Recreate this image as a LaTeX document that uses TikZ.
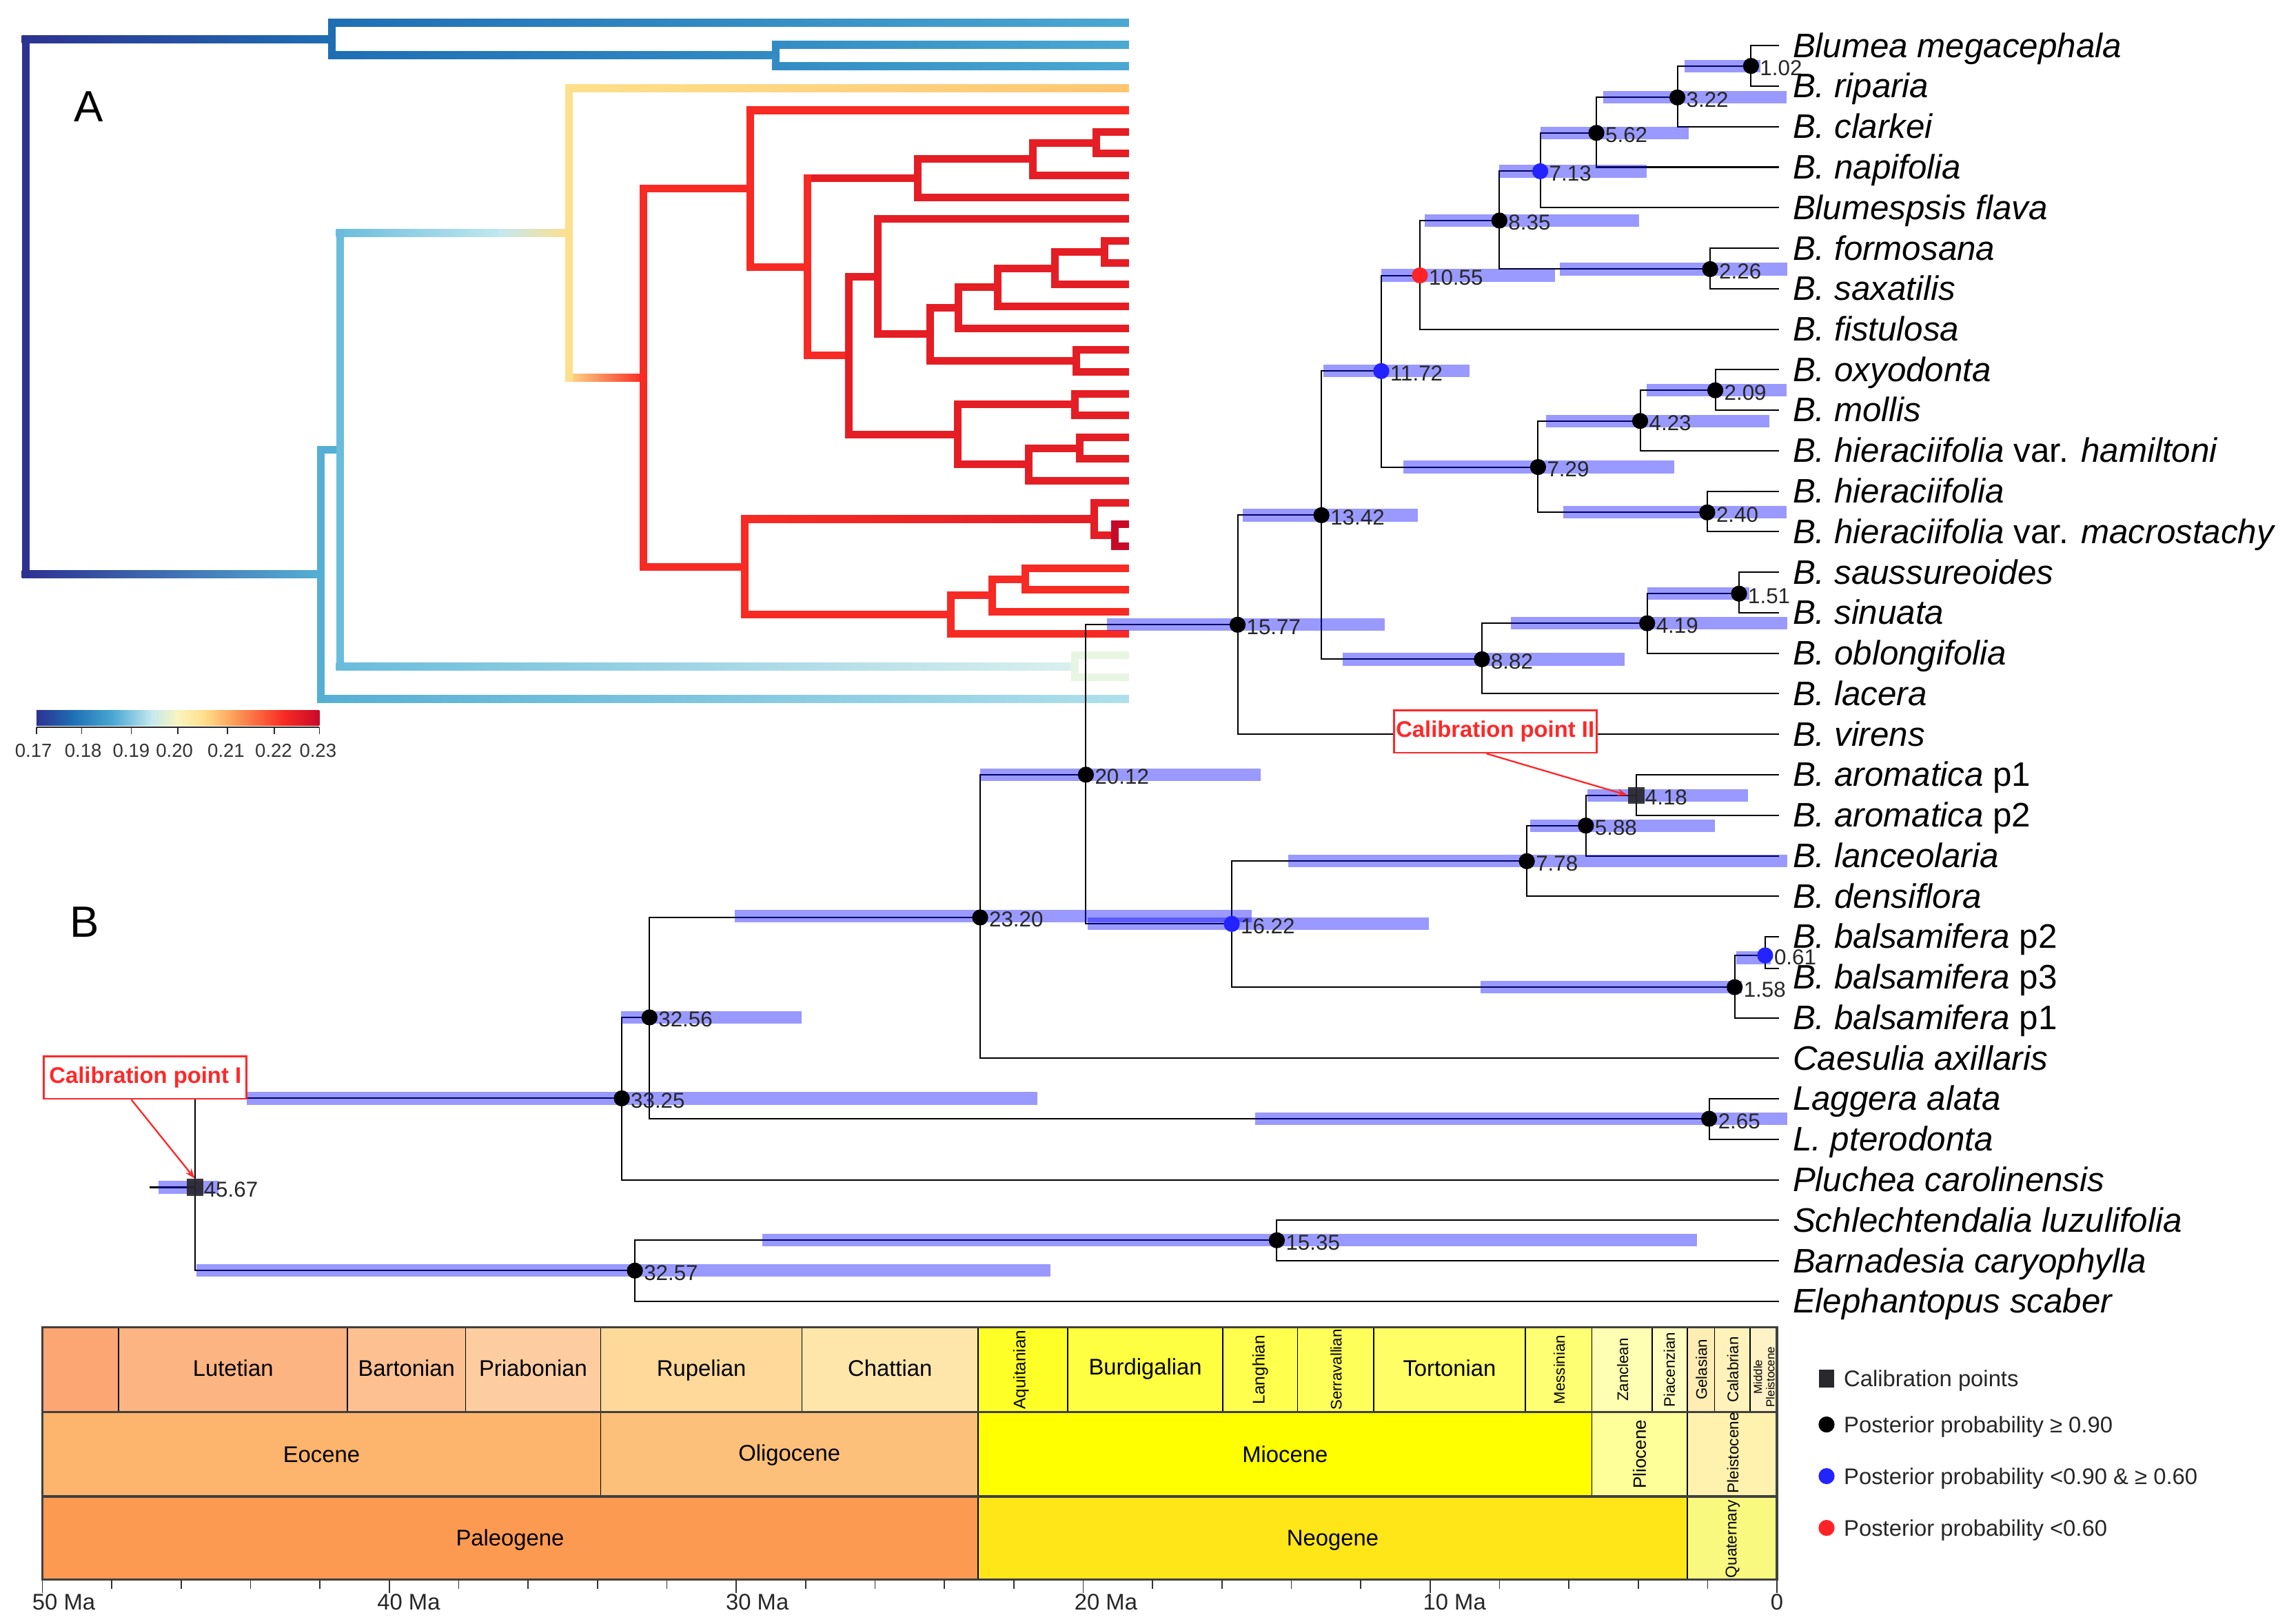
\documentclass[tikz,border=0pt]{standalone}
\usepackage{fontspec}
\setmainfont{Liberation Sans}
\usetikzlibrary{arrows.meta}
% fonts
\newcommand\fTaxon{\fontsize{23.3pt}{27pt}\selectfont\itshape}
\newcommand\fNum{\fontsize{14.8pt}{16pt}\selectfont}
\newcommand\fStage{\fontsize{15.5pt}{18pt}\selectfont}
\newcommand\fRot{\fontsize{10.5pt}{12pt}\selectfont}
\newcommand\fCal{\fontsize{15.5pt}{18pt}\selectfont\bfseries}
% colours
\definecolor{cNavy}{RGB}{45,50,145}
\definecolor{cBlA}{RGB}{30,110,180}
\definecolor{cBlB}{RGB}{50,140,195}
\definecolor{cBlC}{RGB}{75,168,210}
\definecolor{cLbA}{RGB}{85,175,212}
\definecolor{cLbB}{RGB}{105,188,220}
\definecolor{cLbC}{RGB}{175,224,236}
\definecolor{cLbD}{RGB}{195,232,240}
\definecolor{cPale}{RGB}{218,240,238}
\definecolor{cPgreen}{RGB}{232,245,226}
\definecolor{cPyl}{RGB}{250,245,190}
\definecolor{cYel}{RGB}{254,224,140}
\definecolor{cOrng}{RGB}{254,198,115}
\definecolor{cOrA}{RGB}{252,160,90}
\definecolor{cRedA}{RGB}{248,42,36}
\definecolor{cRedB}{RGB}{228,30,36}
\definecolor{cRedC}{RGB}{200,10,40}
\definecolor{pBlue}{RGB}{35,35,255}
\definecolor{pRed}{RGB}{255,35,40}
\definecolor{calRed}{RGB}{255,40,40}
\definecolor{sqGray}{RGB}{40,40,45}
% ICS colours
\definecolor{cYpr}{RGB}{252,167,115}
\definecolor{cLut}{RGB}{252,180,130}
\definecolor{cBar}{RGB}{253,192,145}
\definecolor{cPri}{RGB}{253,205,161}
\definecolor{cRup}{RGB}{254,217,154}
\definecolor{cCha}{RGB}{254,230,170}
\definecolor{cAqu}{RGB}{255,255,40}
\definecolor{cBur}{RGB}{255,255,65}
\definecolor{cLan}{RGB}{255,255,77}
\definecolor{cSer}{RGB}{255,255,89}
\definecolor{cTor}{RGB}{255,255,101}
\definecolor{cMes}{RGB}{255,255,115}
\definecolor{cZan}{RGB}{255,255,179}
\definecolor{cPia}{RGB}{255,255,191}
\definecolor{cGel}{RGB}{255,237,179}
\definecolor{cCal}{RGB}{255,242,186}
\definecolor{cMid}{RGB}{255,242,199}
\definecolor{cEoc}{RGB}{253,180,108}
\definecolor{cOli}{RGB}{253,192,122}
\definecolor{cMio}{RGB}{255,255,0}
\definecolor{cPli}{RGB}{255,255,153}
\definecolor{cPle}{RGB}{255,242,174}
\definecolor{cPal}{RGB}{253,154,82}
\definecolor{cNeo}{RGB}{255,230,25}
\definecolor{cQua}{RGB}{249,249,127}
% helpers for panel A (thick coloured tree)
\newcommand\hbr[5]{\shade[left color=#4,right color=#5] ({#2-2.6},{#1-2.6}) rectangle (#3,{#1+2.6});}
\newcommand\hbs[4]{\fill[#4] ({#2-2.6},{#1-2.6}) rectangle (#3,{#1+2.6});}
\newcommand\hbm[6]{\shade[left color=#4,middle color=#5,right color=#6] ({#2-2.6},{#1-2.6}) rectangle (#3,{#1+2.6});}
\newcommand\vbr[4]{\fill[#4] ({#1-2.6},{#2-2.6}) rectangle ({#1+2.6},{#3+2.6});}
% HPD bar
\newcommand\hpd[3]{\fill[hpdbar] (#2,{#1-4.3}) rectangle (#3,{#1+4.3});}
% timescale cell
\newcommand\tcell[5]{\fill[#5] (#1,#3) rectangle (#2,#4);}

\begin{document}
\begin{tikzpicture}[x=1pt,y=-1pt,
  br/.style={line width=0.95pt, black},
  hpdbar/.style={fill=blue, fill opacity=0.4},
  pdot/.style={circle, inner sep=0pt, minimum size=11pt, fill=#1},
  csq/.style={rectangle, inner sep=0pt, minimum size=11.5pt, fill=sqGray, fill opacity=0.92},
  num/.style={anchor=west, inner sep=0pt, font=\fNum, text=black!85},
  taxon/.style={anchor=base west, inner sep=0pt, font=\fTaxon},
  stage/.style={anchor=base, inner sep=0pt, font=\fStage},
  rot/.style={rotate=90, inner sep=0pt, font=\fRot},
  calbox/.style={draw=calRed, line width=1.3pt, fill=white, text=calRed, font=\fCal, inner sep=1pt},
  calarrow/.style={draw=calRed, line width=1.1pt, -{Stealth[length=7pt,width=5pt]}},
  leg/.style={anchor=base west, inner sep=0pt, font=\fStage, text=black!85},
  axl/.style={anchor=base west, inner sep=0pt, font=\fStage, text=black!85},
  cbl/.style={anchor=base, inner sep=0pt, font=\fontsize{13pt}{15pt}\selectfont, text=black!80}]
\fill[white] (0,0) rectangle (1568,1113);
\useasboundingbox (0,0) rectangle (1568,1113);

%================ PANEL A =================
\node[font=\fontsize{30pt}{30pt}\selectfont, inner sep=0pt] (labA) at (61,73) {A};
% top clade
\hbr{26.8}{17.5}{227.6}{cNavy}{cBlA}
\hbr{15.6}{227.6}{774}{cBlA}{cBlC}
\hbr{38.03}{227.6}{531.8}{cBlA}{cBlB}
\hbr{30.55}{531.8}{774}{cBlB}{cBlC}
\hbr{45.51}{531.8}{774}{cBlB}{cBlC}
\vbr{227.6}{15.6}{38.03}{cBlA}
\vbr{531.8}{30.55}{45.51}{cBlB}
% bottom clade
\hbm{393.7}{17.5}{220}{cNavy}{cBlA}{cLbA}
\hbr{479.21}{220}{774}{cLbA}{cLbC}
\hbs{308.2}{220}{233}{cLbA}
\hbr{456.78}{233}{737}{cLbB}{cPale}
\hbs{449.3}{737}{774}{cPgreen}
\hbs{464.25}{737}{774}{cPgreen}
\hbr{159.67}{233}{345}{cLbB}{cLbD}
\hbm{159.67}{345}{390.2}{cLbD}{cPyl}{cYel}
\hbr{60.47}{390.2}{774}{cYel}{cOrng}
\hbm{258.87}{390.2}{441.3}{cYel}{cOrA}{cRedA}
\vbr{17.5}{26.8}{393.7}{cNavy}
\vbr{220}{308.2}{479.21}{cLbA}
\vbr{233}{159.67}{456.78}{cLbB}
\vbr{737}{449.3}{464.25}{cPgreen}
\vbr{390.2}{60.47}{258.87}{cYel}
% red clade
\hbs{129.2}{441.3}{514.3}{cRedA}
\hbr{75.42}{514.3}{774}{cRedA}{cRedA}
\hbs{182.98}{514.3}{553.8}{cRedA}
\hbs{122.16}{553.8}{629.4}{cRedB}
\hbs{109.07}{629.4}{708}{cRedB}
\hbs{97.86}{708}{751.5}{cRedB}
\hbs{90.38}{751.5}{774}{cRedB}
\hbs{105.33}{751.5}{774}{cRedB}
\hbs{120.29}{708}{774}{cRedB}
\hbs{135.24}{629.4}{774}{cRedB}
\hbs{243.8}{553.8}{581.8}{cRedA}
\hbs{189.69}{581.8}{601.9}{cRedB}
\hbs{150.2}{601.9}{774}{cRedB}
\hbs{229.18}{601.9}{637.9}{cRedB}
\hbs{210.95}{637.9}{656.9}{cRedB}
\hbs{196.93}{656.9}{683.9}{cRedB}
\hbs{183.85}{683.9}{723.4}{cRedB}
\hbs{172.63}{723.4}{757.5}{cRedB}
\hbs{165.15}{757.5}{774}{cRedB}
\hbs{180.11}{757.5}{774}{cRedB}
\hbs{195.06}{723.4}{774}{cRedB}
\hbs{210.02}{683.9}{774}{cRedB}
\hbs{224.97}{656.9}{774}{cRedB}
\hbs{247.4}{637.9}{738}{cRedB}
\hbs{239.93}{738}{774}{cRedB}
\hbs{254.88}{738}{774}{cRedB}
\hbs{297.9}{581.8}{656.4}{cRedB}
\hbs{277.3}{656.4}{737}{cRedB}
\hbs{269.84}{737}{774}{cRedB}
\hbs{284.79}{737}{774}{cRedB}
\hbs{318.43}{656.4}{705.4}{cRedB}
\hbs{307.2}{705.4}{740.4}{cRedB}
\hbs{299.75}{740.4}{774}{cRedB}
\hbs{314.7}{740.4}{774}{cRedB}
\hbs{329.66}{705.4}{774}{cRedB}
\hbs{388.54}{441.3}{510.8}{cRedA}
\hbr{355.83}{510.8}{750.4}{cRedA}{cRedB}
\hbs{344.61}{750.4}{774}{cRedB}
\hbs{367.05}{750.4}{764.4}{cRedB}
\hbs{359.57}{764.4}{774}{cRedC}
\hbs{374.52}{764.4}{774}{cRedC}
\hbs{421.26}{510.8}{651.9}{cRedA}
\hbs{408.17}{651.9}{680.4}{cRedA}
\hbs{396.96}{680.4}{703}{cRedA}
\hbs{389.48}{703}{774}{cRedA}
\hbs{404.43}{703}{774}{cRedA}
\hbs{419.39}{680.4}{774}{cRedA}
\hbs{434.34}{651.9}{774}{cRedA}
\vbr{441.3}{129.2}{388.54}{cRedA}
\vbr{514.3}{75.42}{182.98}{cRedA}
\vbr{553.8}{122.16}{243.8}{cRedA}
\vbr{629.4}{109.07}{135.24}{cRedB}
\vbr{708}{97.86}{120.29}{cRedB}
\vbr{751.5}{90.38}{105.33}{cRedB}
\vbr{581.8}{189.69}{297.9}{cRedB}
\vbr{601.9}{150.2}{229.18}{cRedB}
\vbr{637.9}{210.95}{247.4}{cRedB}
\vbr{656.9}{196.93}{224.97}{cRedB}
\vbr{683.9}{183.85}{210.02}{cRedB}
\vbr{723.4}{172.63}{195.06}{cRedB}
\vbr{757.5}{165.15}{180.11}{cRedB}
\vbr{738}{239.93}{254.88}{cRedB}
\vbr{656.4}{277.3}{318.43}{cRedB}
\vbr{737}{269.84}{284.79}{cRedB}
\vbr{705.4}{307.2}{329.66}{cRedB}
\vbr{740.4}{299.75}{314.7}{cRedB}
\vbr{510.8}{355.83}{421.26}{cRedA}
\vbr{750.4}{344.61}{367.05}{cRedB}
\vbr{764.4}{359.57}{374.52}{cRedC}
\vbr{651.9}{408.17}{434.34}{cRedA}
\vbr{680.4}{396.96}{419.39}{cRedA}
\vbr{703}{389.48}{404.43}{cRedA}

% colour bar
\shade[left color=cNavy,right color=cBlA] (25,486.8) rectangle (50,497.4);
\shade[left color=cBlA,right color=cBlC] (49.5,486.8) rectangle (78,497.4);
\shade[left color=cBlC,right color=cLbD] (77.5,486.8) rectangle (104,497.4);
\shade[left color=cLbD,right color=cPyl] (103.5,486.8) rectangle (122,497.4);
\shade[left color=cPyl,right color=cYel] (121.5,486.8) rectangle (140,497.4);
\shade[left color=cYel,right color=cOrA] (139.5,486.8) rectangle (160,497.4);
\shade[left color=cOrA,right color=cRedA] (159.5,486.8) rectangle (195,497.4);
\shade[left color=cRedA,right color=cRedC] (194.5,486.8) rectangle (219,497.4);
\draw[line width=0.8pt, black!85] (25,498.4) -- (219,498.4);
\foreach \xx/\lx/\tt in {25/23/0.17,56/57/0.18,90/90/0.19,122/119.6/0.20,156/155/0.21,188/187.6/0.22,219/218/0.23}
  {\draw[line width=0.8pt, black!85] (\xx,498.4) -- (\xx,503.4);
   \node[cbl] (cb\tt) at (\lx,519) {\tt};}

%================ PANEL B =================
\node[font=\fontsize{30pt}{30pt}\selectfont, inner sep=0pt] (labB) at (58,632) {B};
% tips
\foreach \i/\yy in {1/31.3,2/59.1,3/86.8,4/114.6,5/142.4,6/170.2,7/197.9,8/225.7,9/253.5,10/281.2,11/309.0,12/336.8,13/364.5,14/392.3,15/420.1,16/447.9,17/475.6,18/503.4,19/531.2,20/558.9,21/586.7,22/614.5,23/642.2,24/664,25/697.8,26/725.6,27/753.3,28/781.1,29/808.9,30/836.6,31/864.4,32/892.2}
  {\coordinate (t\i) at (1219.5,\yy);}
% internal nodes
\coordinate (n102) at (1200.5,45.2);
\coordinate (n322) at (1150,66.8);
\coordinate (n562) at (1094.5,91.1);
\coordinate (n713) at (1056,117.4);
\coordinate (n835) at (1028,151.2);
\coordinate (n226) at (1172.5,184.5);
\coordinate (n1055) at (973.5,188.8);
\coordinate (n1172) at (947,254.4);
\coordinate (n209) at (1176,267.6);
\coordinate (n423) at (1124.5,288.6);
\coordinate (n729) at (1054.5,320.2);
\coordinate (n240) at (1170.5,351.3);
\coordinate (n1342) at (906,353.2);
\coordinate (n1577) at (848.5,428.3);
\coordinate (n151) at (1192.3,407);
\coordinate (n419) at (1129.3,427.3);
\coordinate (n882) at (1016,452);
\coordinate (n418) at (1121.8,545.2);
\coordinate (n588) at (1087.3,566);
\coordinate (n778) at (1046.8,590.4);
\coordinate (n1622) at (844.5,633.4);
\coordinate (n061) at (1210.2,655);
\coordinate (n158) at (1189.3,676.8);
\coordinate (n2012) at (744.5,531.1);
\coordinate (n2320) at (672,629);
\coordinate (n3256) at (445.3,697.5);
\coordinate (n265) at (1171.8,767);
\coordinate (n3325) at (426.3,753);
\coordinate (n4567) at (133.6,814);
\coordinate (n3257) at (435.3,871.1);
\coordinate (n1535) at (875.4,850.3);
\coordinate (root) at (102.6,814);
% branches
\foreach \p/\c in {n102/t1,n102/t2,n322/n102,n322/t3,n562/n322,n562/t4,n713/n562,n713/t5,
  n835/n713,n835/n226,n226/t6,n226/t7,n1055/n835,n1055/t8,n1172/n1055,n1172/n729,
  n729/n423,n729/n240,n423/n209,n423/t11,n209/t9,n209/t10,n240/t12,n240/t13,
  n1342/n1172,n1342/n882,n882/n419,n882/t17,n419/n151,n419/t16,n151/t14,n151/t15,
  n1577/n1342,n1577/t18,n2012/n1577,n2012/n1622,n1622/n778,n1622/n158,
  n778/n588,n778/t22,n588/n418,n588/t21,n418/t19,n418/t20,n158/n061,n158/t25,
  n061/t23,n061/t24,n2320/n2012,n2320/t26,n3256/n2320,n3256/n265,n265/t27,n265/t28,
  n3325/n3256,n3325/t29,n4567/n3325,n4567/n3257,n3257/n1535,n3257/t32,n1535/t30,n1535/t31}
  {\draw[br] (\p) |- (\c);}
\draw[br] (root) -- (n4567);
% HPD bars
\hpd{45.2}{1155}{1207}
\hpd{66.8}{1099}{1225}
\hpd{91.1}{1056}{1158}
\hpd{117.4}{1028}{1129}
\hpd{151.2}{977}{1124}
\hpd{184.5}{1069.5}{1225.5}
\hpd{188.8}{947}{1066}
\hpd{254.4}{907.5}{1007.4}
\hpd{267.6}{1129}{1225}
\hpd{288.6}{1060}{1213}
\hpd{320.2}{962}{1148}
\hpd{351.3}{1072}{1225}
\hpd{353.2}{852}{972}
\hpd{428.3}{759}{949.4}
\hpd{407}{1129.3}{1199.3}
\hpd{427.3}{1036}{1225.2}
\hpd{452}{920.4}{1113.8}
\hpd{545.2}{1088.3}{1198.3}
\hpd{566}{1049.3}{1175.8}
\hpd{590.4}{883.4}{1225.2}
\hpd{633.4}{745.5}{979.4}
\hpd{656.6}{1190.3}{1214.2}
\hpd{676.8}{1015}{1194}
\hpd{531.1}{672}{864.5}
\hpd{628.2}{503.8}{858}
\hpd{697.5}{425.8}{549.8}
\hpd{767}{860.5}{1225.2}
\hpd{753}{169.1}{711}
\hpd{814}{108.6}{150}
\hpd{871.1}{134.6}{720.4}
\hpd{850.3}{522.8}{1163.3}
% node markers
\foreach \n in {n102,n322,n562,n835,n226,n209,n423,n729,n240,n1342,n1577,n151,n419,n882,n588,n778,n158,n2012,n2320,n3256,n265,n3325,n3257,n1535}
  {\node[pdot=black] (d\n) at (\n) {};}
\foreach \n in {n713,n1172,n1622,n061}
  {\node[pdot=pBlue] (d\n) at (\n) {};}
\node[pdot=pRed] (dn1055) at (n1055) {};
\node[csq] (s418) at (n418) {};
\node[csq] (s4567) at (n4567) {};
% node ages
\foreach \n/\a in {n102/1.02,n322/3.22,n562/5.62,n713/7.13,n835/8.35,n226/2.26,n1055/10.55,n1172/11.72,
  n209/2.09,n423/4.23,n729/7.29,n240/2.40,n1342/13.42,n1577/15.77,n151/1.51,n419/4.19,n882/8.82,
  n418/4.18,n588/5.88,n778/7.78,n1622/16.22,n061/0.61,n158/1.58,n2012/20.12,n2320/23.20,
  n3256/32.56,n265/2.65,n3325/33.25,n4567/45.67,n3257/32.57,n1535/15.35}
  {\node[num] (a\n) at ([xshift=6pt,yshift=-1.5pt]\n) {\a};}
% taxon labels
\node[taxon] (L1) at (1229,39.3) {Blumea megacephala};
\node[taxon] (L2) at (1229,67.1) {B. riparia};
\node[taxon] (L3) at (1229,94.8) {B. clarkei};
\node[taxon] (L4) at (1229,122.6) {B. napifolia};
\node[taxon] (L5) at (1229,150.4) {Blumespsis flava};
\node[taxon] (L6) at (1229,178.2) {B. formosana};
\node[taxon] (L7) at (1229,205.9) {B. saxatilis};
\node[taxon] (L8) at (1229,233.7) {B. fistulosa};
\node[taxon] (L9) at (1229,261.5) {B. oxyodonta};
\node[taxon] (L10) at (1229,289.2) {B. mollis};
\node[taxon] (L11) at (1229,317.0) {B. hieraciifolia {\upshape var.} hamiltoni};
\node[taxon] (L12) at (1229,344.8) {B. hieraciifolia};
\node[taxon] (L13) at (1229,372.5) {B. hieraciifolia {\upshape var.} macrostachy};
\node[taxon] (L14) at (1229,400.3) {B. saussureoides};
\node[taxon] (L15) at (1229,428.1) {B. sinuata};
\node[taxon] (L16) at (1229,455.9) {B. oblongifolia};
\node[taxon] (L17) at (1229,483.6) {B. lacera};
\node[taxon] (L18) at (1229,511.4) {B. virens};
\node[taxon] (L19) at (1229,539.2) {B. aromatica {\upshape p1}};
\node[taxon] (L20) at (1229,566.9) {B. aromatica {\upshape p2}};
\node[taxon] (L21) at (1229,594.7) {B. lanceolaria};
\node[taxon] (L22) at (1229,622.5) {B. densiflora};
\node[taxon] (L23) at (1229,650.2) {B. balsamifera {\upshape p2}};
\node[taxon] (L24) at (1229,678.0) {B. balsamifera {\upshape p3}};
\node[taxon] (L25) at (1229,705.8) {B. balsamifera {\upshape p1}};
\node[taxon] (L26) at (1229,733.6) {Caesulia axillaris};
\node[taxon] (L27) at (1229,761.3) {Laggera alata};
\node[taxon] (L28) at (1229,789.1) {L. pterodonta};
\node[taxon] (L29) at (1229,816.9) {Pluchea carolinensis};
\node[taxon] (L30) at (1229,844.6) {Schlechtendalia luzulifolia};
\node[taxon] (L31) at (1229,872.4) {Barnadesia caryophylla};
\node[taxon] (L32) at (1229,900.2) {Elephantopus scaber};
% calibration call-outs
\node[calbox, minimum width=139pt, minimum height=29pt] (cal2) at (1025.1,501.5) {Calibration point II};
\node[calbox, minimum width=139pt, minimum height=29pt] (cal1) at (99.6,738.8) {Calibration point I};
\draw[calarrow] ([xshift=-6pt]cal2.south) -- (s418.west);
\draw[calarrow] ([xshift=-9.5pt]cal1.south) -- (s4567.north);

%================ TIME SCALE =================
% row 1 stages
\tcell{29}{81.3}{910}{968}{cYpr}
\tcell{81.3}{238.3}{910}{968}{cLut}
\tcell{238.3}{319.2}{910}{968}{cBar}
\tcell{319.2}{411.9}{910}{968}{cPri}
\tcell{411.9}{549.9}{910}{968}{cRup}
\tcell{549.9}{670.5}{910}{968}{cCha}
\tcell{670.5}{732.1}{910}{968}{cAqu}
\tcell{732.1}{838.4}{910}{968}{cBur}
\tcell{838.4}{889.6}{910}{968}{cLan}
\tcell{889.6}{941.7}{910}{968}{cSer}
\tcell{941.7}{1045.9}{910}{968}{cTor}
\tcell{1045.9}{1091.4}{910}{968}{cMes}
\tcell{1091.4}{1132.7}{910}{968}{cZan}
\tcell{1132.7}{1156.9}{910}{968}{cPia}
\tcell{1156.9}{1175.5}{910}{968}{cGel}
\tcell{1175.5}{1199.7}{910}{968}{cCal}
\tcell{1199.7}{1218.3}{910}{968}{cMid}
% row 2 epochs
\tcell{29}{411.9}{968}{1026}{cEoc}
\tcell{411.9}{670.5}{968}{1026}{cOli}
\tcell{670.5}{1091.4}{968}{1026}{cMio}
\tcell{1091.4}{1156.9}{968}{1026}{cPli}
\tcell{1156.9}{1218.3}{968}{1026}{cPle}
% row 3 periods
\tcell{29}{670.5}{1026}{1083}{cPal}
\tcell{670.5}{1156.9}{1026}{1083}{cNeo}
\tcell{1156.9}{1218.3}{1026}{1083}{cQua}
% internal boundaries
\foreach \xx in {81.3,238.3,319.2,549.9,732.1,838.4,889.6,941.7,1045.9,1132.7,1175.5,1199.7}
  {\draw[line width=0.8pt] (\xx,910) -- (\xx,968);}
\foreach \xx in {411.9,670.5,1091.4}
  {\draw[line width=0.8pt] (\xx,910) -- (\xx,1026);}
\draw[line width=0.8pt] (1156.9,910) -- (1156.9,1083);
\draw[line width=0.8pt] (670.5,1026) -- (670.5,1083);
\draw[line width=1.6pt, black!75] (29,910) rectangle (1218.3,1083);
\draw[line width=1.6pt, black!75] (29,968) -- (1218.3,968);
\draw[line width=1.6pt, black!75] (29,1026) -- (1218.3,1026);
% labels row 1
\node[stage] (sLut) at (159.8,943.5) {Lutetian};
\node[stage] (sBar) at (278.7,943.5) {Bartonian};
\node[stage] (sPri) at (365.5,943.5) {Priabonian};
\node[stage] (sRup) at (480.9,943.5) {Rupelian};
\node[stage] (sCha) at (610.2,943.5) {Chattian};
\node[stage] (sBur) at (785.2,942.5) {Burdigalian};
\node[stage] (sTor) at (993.8,943.5) {Tortonian};
\node[rot, font=\fontsize{11.5pt}{13pt}\selectfont] (sAqu) at (700,939) {Aquitanian};
\node[rot, font=\fontsize{11.5pt}{13pt}\selectfont] (sLan) at (864,939) {Langhian};
\node[rot] (sSer) at (916,939) {Serravallian};
\node[rot] (sMes) at (1069,939) {Messinian};
\node[rot] (sZan) at (1112.5,939) {Zanclean};
\node[rot] (sPia) at (1144.5,939) {Piacenzian};
\node[rot] (sGel) at (1166.5,939) {Gelasian};
\node[rot] (sCal) at (1188,939) {Calabrian};
\begin{scope}
  \clip (1199.7,911) rectangle (1218.3,967);
  \node[rotate=90, inner sep=0pt, align=center, font=\fontsize{8pt}{8.5pt}\selectfont] (sMid) at (1209.5,944) {Middle\\Pleistocene};
\end{scope}
% labels row 2
\node[stage] (sEoc) at (220.4,1002.5) {Eocene};
\node[stage] (sOli) at (541.2,1001.5) {Oligocene};
\node[stage] (sMio) at (881,1002.5) {Miocene};
\node[rot, font=\fontsize{12.3pt}{14pt}\selectfont] (sPli) at (1124,997) {Pliocene};
\node[rot, font=\fontsize{10.7pt}{12pt}\selectfont] (sPle) at (1188,996) {Pleistocene};
% labels row 3
\node[stage] (sPal) at (349.7,1059.5) {Paleogene};
\node[stage] (sNeo) at (913.7,1059.5) {Neogene};
\node[rot, font=\fontsize{10.7pt}{12pt}\selectfont] (sQua) at (1188,1055) {Quaternary};
% axis
\foreach \t in {0,2,...,50}
  {\draw[line width=0.8pt, black!80] ({1218.3-23.786*\t},1083) -- ({1218.3-23.786*\t},1089.5);}
\foreach \t in {0,10,...,50}
  {\draw[line width=0.8pt, black!80] ({1218.3-23.786*\t},1083) -- ({1218.3-23.786*\t},1092);}
\node[axl] (ax50) at (22,1103.5) {50 Ma};
\node[axl] (ax40) at (258.5,1103.5) {40 Ma};
\node[axl] (ax30) at (497.5,1103.5) {30 Ma};
\node[axl] (ax20) at (736.5,1103.5) {20 Ma};
\node[axl] (ax10) at (975.5,1103.5) {10 Ma};
\node[anchor=base, inner sep=0pt, font=\fStage, text=black!85] (ax0) at (1218.3,1103.5) {0};

%================ LEGEND =================
\node[rectangle, inner sep=0pt, minimum width=10pt, minimum height=12pt, fill=sqGray] (lsq) at (1252.3,945.2) {};
\node[leg] (lt1) at (1264,950.7) {Calibration points};
\node[pdot=black] (ld1) at (1252.3,976.6) {};
\node[leg] (lt2) at (1264,982.1) {Posterior probability ≥ 0.90};
\node[pdot=pBlue] (ld2) at (1252.3,1012) {};
\node[leg] (lt3) at (1264,1017.5) {Posterior probability <0.90 \& ≥ 0.60};
\node[pdot=pRed] (ld3) at (1252.3,1047.5) {};
\node[leg] (lt4) at (1264,1053) {Posterior probability <0.60};
\end{tikzpicture}
\end{document}
